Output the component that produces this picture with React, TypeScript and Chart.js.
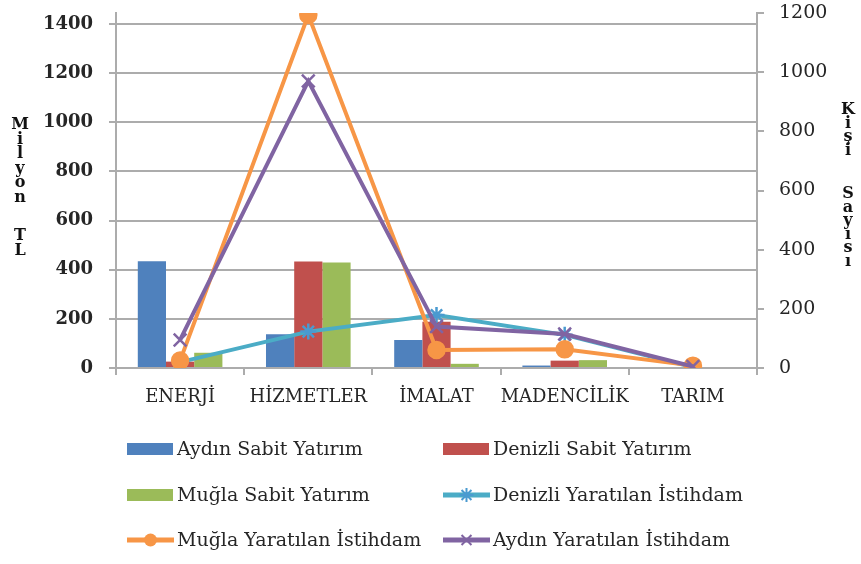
import { useEffect, useRef } from 'react';
import { Chart, registerables } from 'chart.js';
Chart.register(...registerables);

const categories = ['ENERJİ', 'HİZMETLER', 'İMALAT', 'MADENCİLİK', 'TARIM'];
const aydinSabit = [435, 137, 114, 10, 0];
const denizliSabit = [26, 433, 188, 30, 0];
const muglaSabit = [62, 429, 17, 32, 0];
const denizliIstihdam = [20, 123, 179, 112, 3];
const muglaIstihdam = [25, 1193, 61, 63, 8];
const aydinIstihdam = [95, 970, 140, 115, 5];
const leftTicks = [0, 200, 400, 600, 800, 1000, 1200, 1400];
const rightTicks = [0, 200, 400, 600, 800, 1000, 1200];
const leftTitle = ['Milyon', 'TL'];
const rightTitle = ['Kişi', 'Sayısı'];

const BLUE = '#4F81BD';
const RED = '#C0504D';
const GREEN = '#9BBB59';
const CYAN = '#4BACC6';
const ORANGE = '#F79646';
const PURPLE = '#8064A2';
const TEXT = '#262626';
const GRID = '#acacac';
const SERIF = "'DejaVu Serif', serif";

function drawMarker(ctx: CanvasRenderingContext2D, style: string, x: number, y: number, r: number, color: string) {
  ctx.save();
  ctx.strokeStyle = color;
  ctx.fillStyle = color;
  ctx.lineWidth = 2;
  if (style === 'circle') {
    ctx.beginPath();
    ctx.arc(x, y, r, 0, Math.PI * 2);
    ctx.fill();
  } else {
    const angles = style === 'star' ? [0, 45, 90, 135] : [45, 135];
    ctx.beginPath();
    for (const a of angles) {
      const rad = (a * Math.PI) / 180;
      ctx.moveTo(x - Math.cos(rad) * r, y - Math.sin(rad) * r);
      ctx.lineTo(x + Math.cos(rad) * r, y + Math.sin(rad) * r);
    }
    ctx.stroke();
  }
  ctx.restore();
}

const gridPlugin = {
  id: 'leftGrid',
  beforeDatasetsDraw(chart: any) {
    const ctx: CanvasRenderingContext2D = chart.ctx;
    const y = chart.scales.y;
    const area = chart.chartArea;
    ctx.save();
    ctx.fillStyle = GRID;
    for (const v of leftTicks) {
      const py = Math.round(y.getPixelForValue(v));
      ctx.fillRect(area.left - 7, py - 1, area.right - area.left + 7, 2);
    }
    ctx.restore();
  },
};

const legendPlugin = {
  id: 'customLegend',
  afterDraw(chart: any) {
    const ctx: CanvasRenderingContext2D = chart.ctx;
    const cols = [127, 443];
    const rows = [449, 495, 540];
    chart.data.datasets.forEach((ds: any, i: number) => {
      const x = cols[i % 2];
      const y = rows[Math.floor(i / 2)];
      ctx.save();
      if (ds.type === 'line') {
        ctx.strokeStyle = ds.borderColor;
        ctx.lineWidth = 5;
        ctx.lineCap = 'butt';
        ctx.beginPath();
        ctx.moveTo(x, y);
        ctx.lineTo(x + 47, y);
        ctx.stroke();
        drawMarker(ctx, ds.pointStyle, x + 23.5, y, ds.pointStyle === 'circle' ? 6.5 : 7, ds.pointBorderColor || ds.borderColor);
      } else {
        ctx.fillStyle = ds.backgroundColor;
        ctx.fillRect(x, y - 6, 46, 12);
      }
      ctx.fillStyle = TEXT;
      ctx.font = `19px ${SERIF}`;
      ctx.textAlign = 'left';
      ctx.textBaseline = 'middle';
      ctx.fillText(ds.label, x + 50, y + 1);
      ctx.restore();
    });
  },
};

function drawStacked(ctx: CanvasRenderingContext2D, words: string[], x: number, startY: number, step: number, gap: number) {
  let y = startY;
  words.forEach((w, wi) => {
    if (wi > 0) y += gap;
    for (const ch of Array.from(w)) {
      ctx.fillText(ch, x, y);
      y += step;
    }
  });
}

const titlePlugin = {
  id: 'stackedTitles',
  afterDraw(chart: any) {
    const ctx: CanvasRenderingContext2D = chart.ctx;
    ctx.save();
    ctx.fillStyle = '#111';
    ctx.font = `bold 16px ${SERIF}`;
    ctx.textAlign = 'center';
    ctx.textBaseline = 'middle';
    drawStacked(ctx, leftTitle, 20, 125, 14.5, 24);
    drawStacked(ctx, rightTitle, 848, 110, 13.5, 30);
    ctx.restore();
  },
};

const plain = (v: any) => String(v);

export default function App() {
  const ref = useRef<HTMLCanvasElement>(null);
  useEffect(() => {
    document.body.style.margin = '0';
    const lineCommon = {
      type: 'line' as const,
      yAxisID: 'y1',
      borderWidth: 4,
      pointRadius: 8,
      pointBorderWidth: 2.5,
      tension: 0,
      fill: false,
    };
    const chart = new Chart(ref.current!, {
      type: 'bar',
      data: {
        labels: categories,
        datasets: [
          { type: 'bar', label: 'Aydın Sabit Yatırım', data: aydinSabit, backgroundColor: BLUE, yAxisID: 'y', order: 3 },
          { type: 'bar', label: 'Denizli Sabit Yatırım', data: denizliSabit, backgroundColor: RED, yAxisID: 'y', order: 3 },
          { type: 'bar', label: 'Muğla Sabit Yatırım', data: muglaSabit, backgroundColor: GREEN, yAxisID: 'y', order: 3 },
          { ...lineCommon, label: 'Denizli Yaratılan İstihdam', data: denizliIstihdam, borderColor: CYAN, backgroundColor: CYAN, pointStyle: 'star', pointBorderColor: '#4a9ad0', pointRadius: 8, order: 2 },
          { ...lineCommon, label: 'Muğla Yaratılan İstihdam', data: muglaIstihdam, borderColor: ORANGE, backgroundColor: ORANGE, pointStyle: 'circle', pointBorderColor: ORANGE, pointRadius: 8, order: 1 },
          { ...lineCommon, label: 'Aydın Yaratılan İstihdam', data: aydinIstihdam, borderColor: PURPLE, backgroundColor: PURPLE, pointStyle: 'crossRot', pointBorderColor: PURPLE, pointRadius: 9, order: 0 },
        ] as any,
      },
      options: {
        responsive: false,
        animation: false,
        layout: { padding: { top: 13, bottom: 156, left: 0, right: 0 } },
        datasets: { bar: { barPercentage: 1, categoryPercentage: 0.66 } },
        plugins: { legend: { display: false }, tooltip: { enabled: false }, title: { display: false } },
        scales: {
          x: {
            offset: true,
            grid: { display: true, drawOnChartArea: false, drawTicks: true, tickLength: 7, color: GRID, lineWidth: 2, offset: true },
            border: { display: true, color: GRID, width: 2 },
            ticks: { color: TEXT, font: { family: SERIF, size: 18 }, padding: 12, maxRotation: 0, autoSkip: false },
            afterFit(scale: any) { scale.height = 40; scale.paddingLeft = 0; scale.paddingRight = 0; },
          },
          y: {
            position: 'left',
            min: 0,
            max: 1445,
            afterBuildTicks(scale: any) { scale.ticks = leftTicks.map((v) => ({ value: v })); },
            ticks: { color: TEXT, font: { family: SERIF, size: 18, weight: 'bold' }, padding: 16, callback: plain },
            grid: { display: true, drawOnChartArea: false, color: GRID, lineWidth: 2, tickLength: 7, drawTicks: true },
            border: { display: true, color: GRID, width: 2 },
            afterFit(scale: any) { scale.width = 116; scale.paddingTop = 0; scale.paddingBottom = 0; },
          },
          y1: {
            position: 'right',
            min: 0,
            max: 1200,
            afterBuildTicks(scale: any) { scale.ticks = rightTicks.map((v) => ({ value: v })); },
            ticks: { color: TEXT, font: { family: SERIF, size: 19 }, padding: 15, callback: plain },
            grid: { drawOnChartArea: false, color: GRID, lineWidth: 2, tickLength: 7, drawTicks: true },
            border: { display: true, color: GRID, width: 2 },
            afterFit(scale: any) { scale.width = 104; scale.paddingTop = 0; scale.paddingBottom = 0; },
          },
        },
      } as any,
      plugins: [gridPlugin, legendPlugin, titlePlugin],
    });
    return () => chart.destroy();
  }, []);
  return (
    <div style={{ width: 861, height: 564 }}>
      <canvas ref={ref} width={861} height={564} style={{ display: 'block' }} />
    </div>
  );
}
